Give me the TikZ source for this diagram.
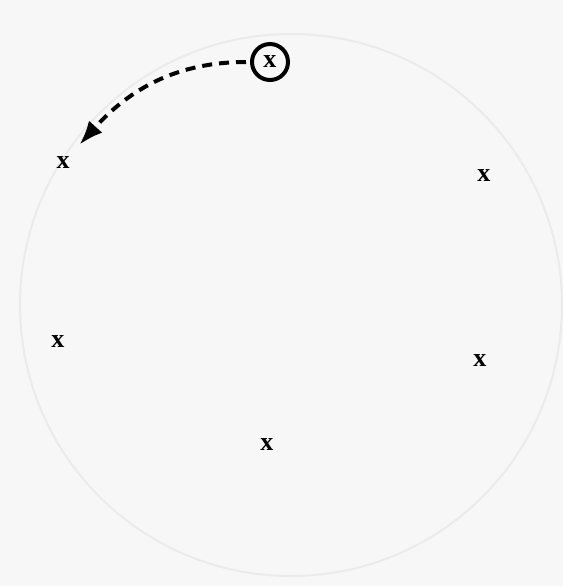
\documentclass[tikz,border=0pt]{standalone}
\usepackage{fontspec}
\usepackage{tikz}
\usepackage{xcolor}
\usetikzlibrary{positioning,arrows.meta}
\newfontfamily\crossfont{Liberation Serif}

\begin{document}
\begin{tikzpicture}[
      x=0.5pt, y=-0.5pt,
      cross/.style={font=\crossfont\bfseries\fontsize{13}{15}\selectfont, inner sep=6pt},
      ring/.style={cross, draw, circle, line width=2pt, minimum size=18pt, inner sep=0pt},
      arr/.style={-{Latex[length=12pt,width=9pt]}, line width=2pt, dash pattern=on 5pt off 3.5pt}
  ]
    \fill[black!3] (0,0) rectangle (563,586);
    \useasboundingbox (0,0) rectangle (563,586);
    \draw[black!8, line width=1pt] (291,305) circle[radius=271];
    \node[ring] (top) at (270,62) {x};
    \node[cross] (nw) at (63,163) {x};
    \node[cross] (ne) at (484,176) {x};
    \node[cross] (w) at (58,342) {x};
    \node[cross] (e) at (480,361) {x};
    \node[cross] (s) at (267,445) {x};
    \draw[arr, shorten <=2pt] (top) to[out=180, in=48] (nw);
  \end{tikzpicture}
\end{document}
